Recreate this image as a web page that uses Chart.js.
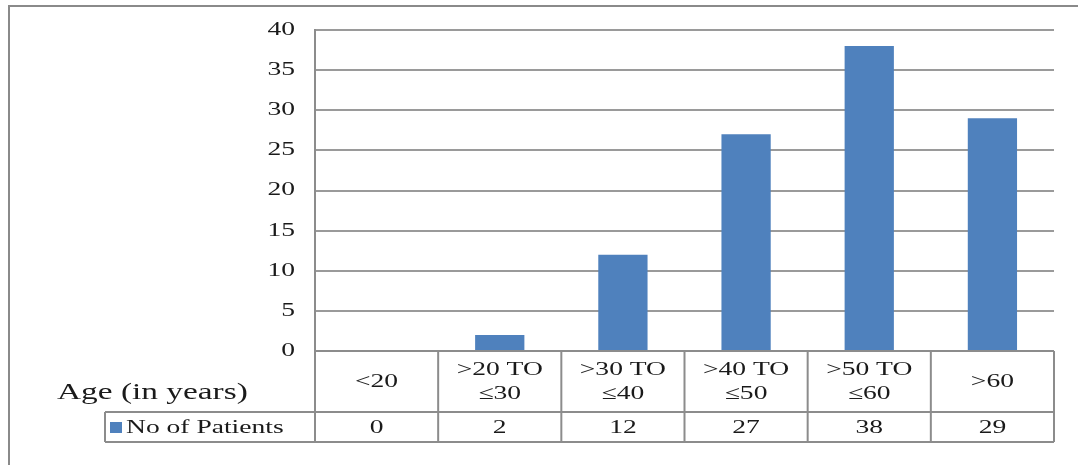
<!DOCTYPE html>
<html>
<head>
    <meta charset="UTF-8" />
    <title>No of Patients by Age</title>
    <script src="https://cdn.jsdelivr.net/npm/chart.js"></script>
    <style>
        body { margin: 0; background: #fff; }
    </style>
</head>
<body>
    <canvas id="chart" width="1078" height="465"></canvas>

    <script>
        // data
        const ageGroups = [['<20'], ['>20 TO', '≤30'], ['>30 TO', '≤40'], ['>40 TO', '≤50'], ['>50 TO', '≤60'], ['>60']];
        const patients = [0, 2, 12, 27, 38, 29];
        const seriesName = 'No of Patients';
        const axisTitle = 'Age (in years)';
        const yMax = 40;
        const yStep = 5;

        const serif = "'Liberation Serif', 'DejaVu Serif', serif";
        const barBlue = '#4f81bd';
        const lineGrey = '#8c8c8c';
        const textCol = '#1a1a1a';
        const stretch = 1.45; // the original text is drawn wide

        function wideText(ctx, text, x, y, align) {
            ctx.save();
            ctx.translate(x, y);
            ctx.scale(stretch, 1);
            ctx.textAlign = align;
            ctx.fillText(text, 0, 0);
            ctx.restore();
        }

        // draws the outer frame, the y labels and the excel-style data table
        const dataTable = {
            id: 'dataTable',
            beforeDraw(chart) {
                const ctx = chart.ctx;
                ctx.save();
                ctx.strokeStyle = '#8a8a8a';
                ctx.lineWidth = 2;
                ctx.beginPath();
                ctx.moveTo(9, 465);
                ctx.lineTo(9, 6);
                ctx.lineTo(1078, 6);
                ctx.stroke();
                ctx.restore();
            },
            afterDraw(chart) {
                const ctx = chart.ctx;
                const x = chart.scales.x;
                const y = chart.scales.y;
                const area = chart.chartArea;
                const n = ageGroups.length;
                const cw = (area.right - area.left) / n;
                const top = area.bottom;
                const mid = top + 61;
                const bot = top + 91;
                const legendLeft = 105;

                ctx.save();
                ctx.strokeStyle = lineGrey;
                ctx.lineWidth = 2;
                ctx.beginPath();
                ctx.moveTo(area.left, top); ctx.lineTo(area.right, top);
                ctx.moveTo(legendLeft, mid); ctx.lineTo(area.right, mid);
                ctx.moveTo(legendLeft, bot); ctx.lineTo(area.right, bot);
                ctx.moveTo(legendLeft, mid); ctx.lineTo(legendLeft, bot);
                for (let i = 0; i <= n; i++) {
                    const px = i === n ? area.right : x.getPixelForValue(i) - cw / 2;
                    ctx.moveTo(px, top); ctx.lineTo(px, bot);
                }
                ctx.stroke();

                ctx.fillStyle = textCol;
                ctx.textBaseline = 'middle';

                // y tick labels
                ctx.font = '19px ' + serif;
                y.ticks.forEach(t => {
                    wideText(ctx, String(t.value), area.left - 20, y.getPixelForValue(t.value), 'right');
                });

                for (let i = 0; i < n; i++) {
                    const cx = x.getPixelForValue(i);
                    const lines = ageGroups[i];
                    const lh = 24;
                    const y0 = (top + mid) / 2 + 1 - (lines.length - 1) * lh / 2;
                    lines.forEach((t, k) => wideText(ctx, t, cx, y0 + k * lh, 'center'));
                    wideText(ctx, String(patients[i]), cx, (mid + bot) / 2 + 1, 'center');
                }

                // legend key + series name
                ctx.fillStyle = barBlue;
                ctx.fillRect(legendLeft + 5, mid + 10, 12, 11);
                ctx.fillStyle = textCol;
                wideText(ctx, seriesName, legendLeft + 21, (mid + bot) / 2 + 1, 'left');

                // category axis title
                ctx.font = '23px ' + serif;
                wideText(ctx, axisTitle, 57, top + 42, 'left');
                ctx.restore();
            }
        };

        new Chart(document.getElementById('chart'), {
            type: 'bar',
            data: {
                labels: ageGroups,
                datasets: [{
                    label: seriesName,
                    data: patients,
                    backgroundColor: barBlue,
                    barPercentage: 0.4,
                    categoryPercentage: 1.0
                }]
            },
            options: {
                responsive: false,
                animation: false,
                layout: { padding: { left: 0, right: 24, top: 30, bottom: 114 } },
                plugins: {
                    legend: { display: false },
                    tooltip: { enabled: false }
                },
                scales: {
                    x: { display: false },
                    y: {
                        min: 0,
                        max: yMax,
                        afterFit(scale) { scale.width = 315; },
                        ticks: { stepSize: yStep, display: false },
                        grid: { color: '#9a9a9a', lineWidth: 2, drawTicks: false },
                        border: { color: lineGrey, width: 2 }
                    }
                }
            },
            plugins: [dataTable]
        });
    </script>
</body>
</html>
